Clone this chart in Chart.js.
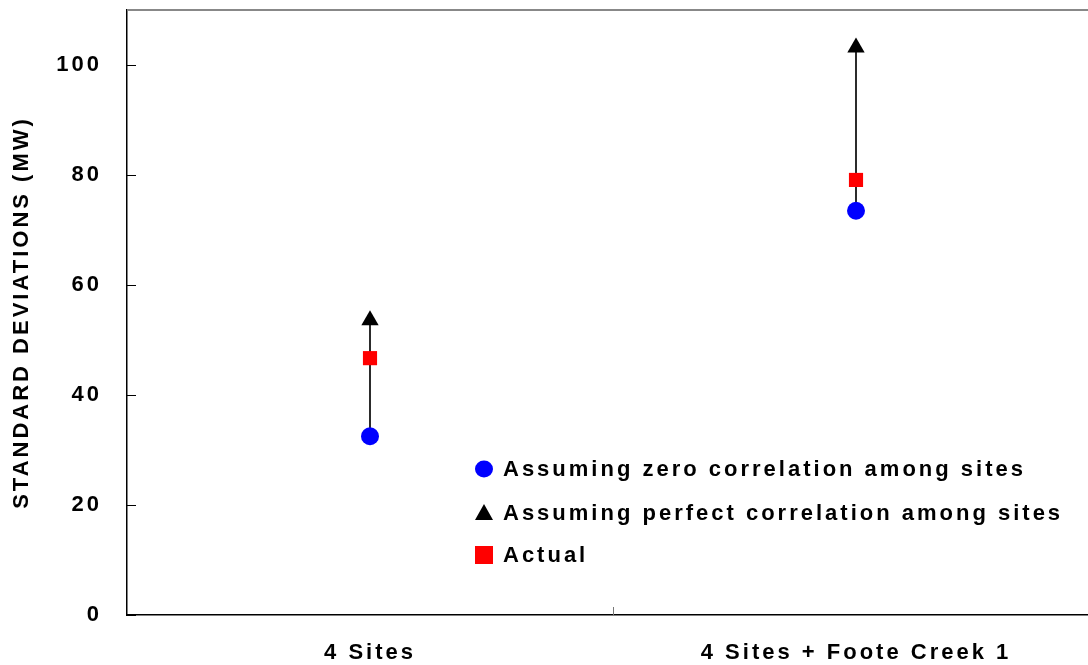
<!DOCTYPE html>
<html>
<head>
<meta charset="utf-8">
<script src="https://cdn.jsdelivr.net/npm/chart.js@4/dist/chart.umd.min.js"></script>
<style>
  html, body { margin: 0; padding: 0; background: #fff; overflow: hidden; }
  .wrap { width: 1088px; height: 665px; overflow: hidden; position: relative; }
  .box { width: 1109px; height: 665px; }
</style>
</head>
<body>
<div class="wrap"><div class="box"><canvas id="chart"></canvas></div></div>
<script>
const categories = ["4 Sites", "4 Sites + Foote Creek 1"];
const zeroCorr = [32.5, 73.5];
const perfectCorr = [53.6, 103.2];
const actual = [46.7, 79.1];
const yTicks = [0, 20, 40, 60, 80, 100];

const legendItems = [
  { label: "Assuming zero correlation among sites", style: "circle", color: "#0000ff" },
  { label: "Assuming perfect correlation among sites", style: "triangle", color: "#000000" },
  { label: "Actual", style: "rect", color: "#ff0000" },
];

const FONT = "'Liberation Sans', Arial, sans-serif";
const SPACING = "3px";

// wide letter spacing for every text the chart draws
const spacing = {
  id: "spacing",
  beforeInit(chart) { chart.ctx.letterSpacing = SPACING; },
  beforeLayout(chart) { chart.ctx.letterSpacing = SPACING; },
  beforeDraw(chart) { chart.ctx.letterSpacing = SPACING; },
};

// tick marks inside the plot, top border and the legend box
const extras = {
  id: "extras",
  afterDraw(chart) {
    const ctx = chart.ctx;
    const { left, right, top, bottom } = chart.chartArea;
    const y = chart.scales.y, x = chart.scales.x;
    ctx.save();
    ctx.strokeStyle = "#000";
    ctx.lineWidth = 1;
    yTicks.forEach(v => {
      const py = Math.round(y.getPixelForValue(v)) + 0.5;
      ctx.beginPath();
      ctx.moveTo(left, py);
      ctx.lineTo(left + 9, py);
      ctx.stroke();
    });
    // category separator tick
    const mid = Math.round((x.getPixelForValue(0) + x.getPixelForValue(1)) / 2) + 0.5;
    ctx.strokeStyle = "#777";
    ctx.beginPath();
    ctx.moveTo(mid, bottom);
    ctx.lineTo(mid, bottom - 8);
    ctx.stroke();
    // top border
    ctx.strokeStyle = "#888";
    ctx.lineWidth = 2;
    ctx.beginPath();
    ctx.moveTo(left, top);
    ctx.lineTo(right, top);
    ctx.stroke();

    // legend
    ctx.font = "bold 22px " + FONT;
    ctx.letterSpacing = SPACING;
    ctx.textBaseline = "middle";
    const rows = [469, 513, 555];
    legendItems.forEach((it, i) => {
      const cy = rows[i], cx = 484;
      ctx.fillStyle = it.color;
      ctx.beginPath();
      if (it.style === "circle") {
        ctx.ellipse(cx, cy, 9, 8.5, 0, 0, Math.PI * 2);
      } else if (it.style === "triangle") {
        ctx.moveTo(cx, cy - 9);
        ctx.lineTo(cx + 9, cy + 7);
        ctx.lineTo(cx - 9, cy + 7);
        ctx.closePath();
      } else {
        ctx.rect(cx - 9, cy - 9, 18, 18);
      }
      ctx.fill();
      ctx.fillStyle = "#000";
      ctx.fillText(it.label, 503, cy + 1);
    });
    ctx.restore();
  }
};

const ctx = document.getElementById("chart").getContext("2d");
new Chart(ctx, {
  data: {
    labels: categories,
    datasets: [
      {
        type: "bar",
        label: "range",
        data: categories.map((c, i) => [zeroCorr[i], perfectCorr[i]]),
        backgroundColor: "#000",
        borderWidth: 0,
        barThickness: 1,
        order: 10,
      },
      {
        type: "line",
        label: legendItems[0].label,
        data: zeroCorr,
        showLine: false,
        pointStyle: "circle",
        pointRadius: 9,
        pointBackgroundColor: "#0000ff",
        pointBorderColor: "#0000ff",
        pointBorderWidth: 0,
        order: 2,
      },
      {
        type: "line",
        label: legendItems[1].label,
        data: perfectCorr,
        showLine: false,
        pointStyle: "triangle",
        pointRadius: 10,
        pointBackgroundColor: "#000",
        pointBorderColor: "#000",
        pointBorderWidth: 0,
        order: 1,
      },
      {
        type: "line",
        label: legendItems[2].label,
        data: actual,
        showLine: false,
        pointStyle: "rect",
        pointRadius: 10,
        pointBackgroundColor: "#ff0000",
        pointBorderColor: "#ff0000",
        pointBorderWidth: 0,
        order: 0,
      },
    ],
  },
  options: {
    responsive: true,
    maintainAspectRatio: false,
    animation: false,
    layout: { padding: { top: 10, left: 0, right: 0, bottom: 0 } },
    plugins: { legend: { display: false }, tooltip: { enabled: false } },
    scales: {
      x: {
        type: "category",
        offset: true,
        grid: { display: false },
        border: { color: "#000", width: 1.5 },
        ticks: { color: "#000", padding: 17, maxRotation: 0, autoSkip: false, font: { family: FONT, size: 22, weight: "bold" } },
        afterFit: s => { s.height = 50; s.paddingLeft = 0; s.paddingRight = 0; },
      },
      y: {
        min: 0,
        max: 110,
        grid: { display: false },
        border: { color: "#000", width: 1.5 },
        ticks: { stepSize: 20, color: "#000", padding: 17, font: { family: FONT, size: 22, weight: "bold" } },
        afterBuildTicks: s => { s.ticks = yTicks.map(v => ({ value: v })); },
        title: {
          display: true,
          text: "STANDARD DEVIATIONS (MW)",
          color: "#000",
          padding: { top: 9, bottom: 0 },
          font: { family: FONT, size: 22, weight: "bold" },
        },
        afterFit: s => { s.width = 127; s.paddingTop = 0; s.paddingBottom = 0; },
      },
    },
  },
  plugins: [spacing, extras],
});
</script>
</body>
</html>
